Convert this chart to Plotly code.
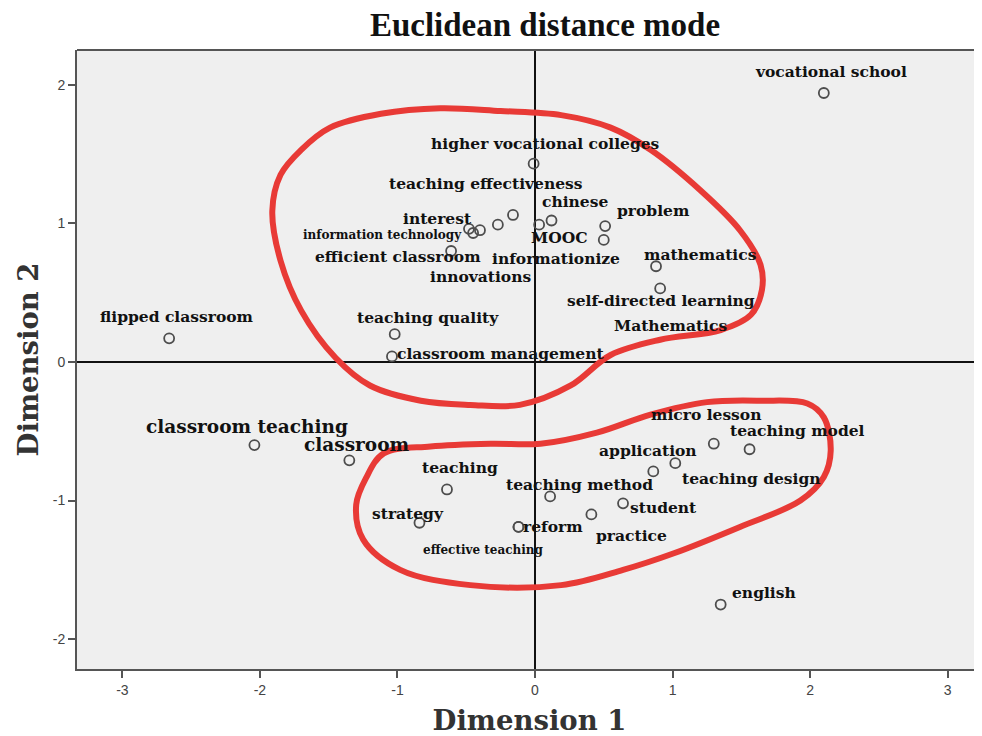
import plotly.graph_objects as go

# ---- data ----
terms = ["vocational school", "higher vocational colleges", "teaching effectiveness",
         "informationize", "interest", "information technology", "innovations",
         "MOOC", "chinese", "problem", "Mathematics", "mathematics",
         "self-directed learning", "efficient classroom", "teaching quality",
         "classroom management", "flipped classroom", "classroom teaching",
         "classroom", "teaching", "teaching method", "strategy", "reform",
         "effective teaching", "micro lesson", "teaching model", "application",
         "teaching design", "student", "practice", "english"]
dim1 = [2.10, -0.01, -0.16, -0.27, -0.40, -0.45, -0.48, 0.03, 0.12, 0.51, 0.50, 0.88,
        0.91, -0.61, -1.02, -1.04, -2.66, -2.04, -1.35, -0.64, 0.11, -0.84, -0.12,
        -0.12, 1.30, 1.56, 1.02, 0.86, 0.64, 0.41, 1.35]
dim2 = [1.94, 1.43, 1.06, 0.99, 0.95, 0.93, 0.96, 0.99, 1.02, 0.98, 0.88, 0.69,
        0.53, 0.80, 0.20, 0.04, 0.17, -0.60, -0.71, -0.92, -0.97, -1.16, -1.19,
        -1.19, -0.59, -0.63, -0.73, -0.79, -1.02, -1.10, -1.75]

# hand-drawn cluster outlines (data units)
loop1_x = [-1.70, -1.49, -1.12, -0.69, -0.25, 0.19, 0.55, 0.84, 1.20, 1.49, 1.64, 1.65,
           1.57, 1.35, 0.91, 0.55, 0.26, -0.11, -0.47, -0.83, -1.20, -1.45, -1.70,
           -1.85, -1.91, -1.85, -1.70]
loop1_y = [1.53, 1.69, 1.79, 1.83, 1.81, 1.78, 1.69, 1.53, 1.24, 0.95, 0.70, 0.52,
           0.34, 0.23, 0.16, 0.05, -0.17, -0.31, -0.31, -0.28, -0.17, 0.03, 0.37,
           0.73, 1.09, 1.35, 1.53]
loop2_x = [-1.10, -0.76, -0.32, 0.04, 0.45, 0.84, 1.25, 1.64, 1.98, 2.10, 2.15, 2.10,
           1.93, 1.49, 1.01, 0.64, 0.19, -0.47, -0.98, -1.25, -1.30, -1.23, -1.10]
loop2_y = [-0.66, -0.61, -0.59, -0.59, -0.51, -0.38, -0.29, -0.28, -0.30, -0.40, -0.64,
           -0.83, -1.00, -1.19, -1.38, -1.50, -1.61, -1.61, -1.50, -1.28, -1.03, -0.84,
           -0.66]

# ---- label placement (pixel offsets from the point) ----
label_dx = [7, 12, -27, 58, -42, -91, 12, 20, 23, 48, 67, 44, 1, -53, 33, 109, 8, -7,
            8, 13, 29, -11, 34, -35, -8, 48, -27, 98, 40, 40, 43]
label_dy = [-21, -20, -31, 34, -12, 2, 48, 13, -19, -16, 86, -12, 12, 5, -17, -3, -22,
            -19, -16, -22, -12, -9, 0, 23, -29, -19, -13, 7, 4, 21, -12]
label_size = [15.5, 15.5, 15.5, 15.5, 15.5, 12, 15.5, 15.5, 15.5, 15.5, 15.5, 15.5,
              15.5, 15.5, 15.5, 15.5, 15.5, 18.5, 18.5, 15.5, 15.5, 15.5, 15.5, 12,
              15.5, 15.5, 15.5, 15.5, 15.5, 15.5, 15.5]

fig = go.Figure()

for lx, ly in [(loop1_x, loop1_y), (loop2_x, loop2_y)]:
    fig.add_trace(go.Scatter(x=lx, y=ly, mode="lines",
                             line=dict(color="#e83a36", width=6, shape="spline", smoothing=1.0),
                             hoverinfo="skip", showlegend=False))

fig.add_trace(go.Scatter(x=dim1, y=dim2, mode="markers", text=terms,
                         marker=dict(symbol="circle-open", size=10,
                                     line=dict(width=1.8, color="#4d4d4d"), color="#4d4d4d"),
                         showlegend=False))

for t, x, y, dx, dy, s in zip(terms, dim1, dim2, label_dx, label_dy, label_size):
    fig.add_annotation(x=x, y=y, text=t, showarrow=False, xshift=dx, yshift=-dy,
                       xanchor="center", yanchor="middle",
                       font=dict(family="DejaVu Serif", size=s, color="#111111", weight="bold"))

fig.add_shape(type="line", xref="paper", yref="paper", x0=0, x1=1, y0=1, y1=1,
              line=dict(color="#555555", width=2))

fig.update_layout(
    width=982, height=728,
    margin=dict(l=69, r=8, t=42, b=67, autoexpand=False),
    paper_bgcolor="white", plot_bgcolor="#efefef",
    title=dict(text="Euclidean distance mode", x=537 / 982, xanchor="center",
               y=1 - 16 / 728, yanchor="middle",
               font=dict(family="Liberation Serif", size=33, color="#111111", weight="bold")),
    xaxis=dict(range=[-3.33, 3.25], tickvals=[-3, -2, -1, 0, 1, 2, 3],
               ticktext=["-3", "-2", "-1", "0", "1", "2", "3"], automargin=False,
               showgrid=False, zeroline=True, zerolinecolor="#111111", zerolinewidth=1.5,
               showline=True, linecolor="#555555", linewidth=2,
               ticks="outside", ticklen=7, tickwidth=2, tickcolor="#555555",
               tickfont=dict(family="Liberation Sans", size=14, color="#444444"),
               title=dict(text="Dimension 1", standoff=16,
                          font=dict(family="DejaVu Serif", size=27.5, color="#333333", weight="bold"))),
    yaxis=dict(range=[-2.215, 2.25], tickvals=[-2, -1, 0, 1, 2],
               ticktext=["-2", "-1", "0", "1", "2"], automargin=False,
               showgrid=False, zeroline=True, zerolinecolor="#111111", zerolinewidth=1.5,
               showline=True, linecolor="#555555", linewidth=2,
               ticks="outside", ticklen=7, tickwidth=2, tickcolor="#555555",
               tickfont=dict(family="Liberation Sans", size=14, color="#444444"),
               title=dict(text="Dimension 2", standoff=6,
                          font=dict(family="DejaVu Serif", size=27.5, color="#333333", weight="bold"))),
)

fig.write_html("out.html")
